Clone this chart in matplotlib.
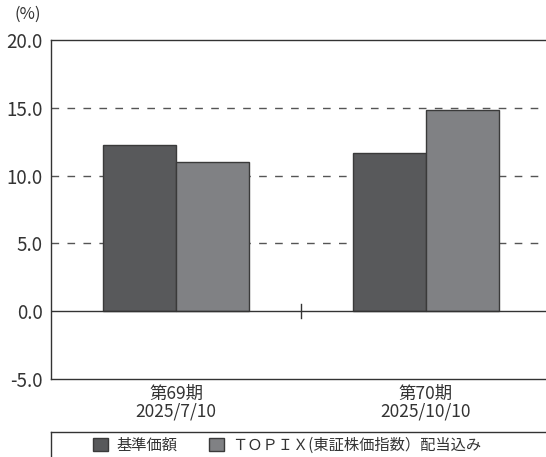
import matplotlib
matplotlib.use("Agg")
import matplotlib.pyplot as plt
from matplotlib.lines import Line2D
import numpy as np

plt.rcParams['font.family'] = ['Noto Sans CJK JP', 'DejaVu Sans']

categories = ["第69期\n2025/7/10", "第70期\n2025/10/10"]
fund = [12.24, 11.65]
topix = [10.99, 14.82]
series_names = ["基準価額", "ＴＯＰＩＸ(東証株価指数）配当込み"]
yticks = [-5.0, 0.0, 5.0, 10.0, 15.0, 20.0]

dark = "#58595b"
light = "#808184"
edge = "#3a3a3a"
txt = "#333333"

W, H = 546, 457
fig = plt.figure(figsize=(W/100, H/100), dpi=100)
ax = fig.add_axes([51/W, 1-379/H, (551-51)/W, (379-40)/H])

x = np.arange(len(categories))
bw = 0.292
b1 = ax.bar(x - bw/2, fund, bw, color=dark, edgecolor=edge, linewidth=1.0, zorder=3, label=series_names[0])
b2 = ax.bar(x + bw/2, topix, bw, color=light, edgecolor=edge, linewidth=1.0, zorder=3, label=series_names[1])

ax.set_xlim(-0.5, 1.5)
ax.set_ylim(-5, 20)
ax.set_yticks(yticks)
ax.set_yticklabels([f"{v:.1f}" for v in yticks], fontsize=13.5, color=txt)
ax.tick_params(axis='y', length=0, pad=6)
ax.set_xticks(x)
ax.set_xticklabels(categories, fontsize=12.5, color=txt, linespacing=1.0)
ax.tick_params(axis='x', length=0, pad=4)

for v in [5, 10, 15]:
    ax.axhline(v, color="#555555", linestyle=(0, (5.5, 6)), linewidth=1.0, zorder=1)
ax.axhline(0, color="#333333", linewidth=1.0, zorder=4)
ax.plot([0.5, 0.5], [-0.5, 0.5], color="#333333", linewidth=1.0, zorder=4)

ax.spines['right'].set_visible(False)
for s in ['left', 'top', 'bottom']:
    ax.spines[s].set_color("#333333")
    ax.spines[s].set_linewidth(1.0)

fig.text(28/W, 1-14/H, "(%)", ha='center', va='center', fontsize=12, color=txt)

# legend frame lines
fig.add_artist(Line2D([51/W, 1.0], [1-432/H, 1-432/H], color="#333333", linewidth=1.0))
fig.add_artist(Line2D([51/W, 51/W], [1-432/H, 0], color="#333333", linewidth=1.0))

leg = fig.legend(handles=[b1, b2], labels=series_names, loc='center left',
                 bbox_to_anchor=(93/W, 1-445/H), ncol=2, frameon=False,
                 fontsize=11, handlelength=0.95, handleheight=0.95,
                 handletextpad=0.55, columnspacing=2.1, borderaxespad=0, borderpad=0)
for t in leg.get_texts():
    t.set_color(txt)

fig.savefig("out.png", dpi=100)
